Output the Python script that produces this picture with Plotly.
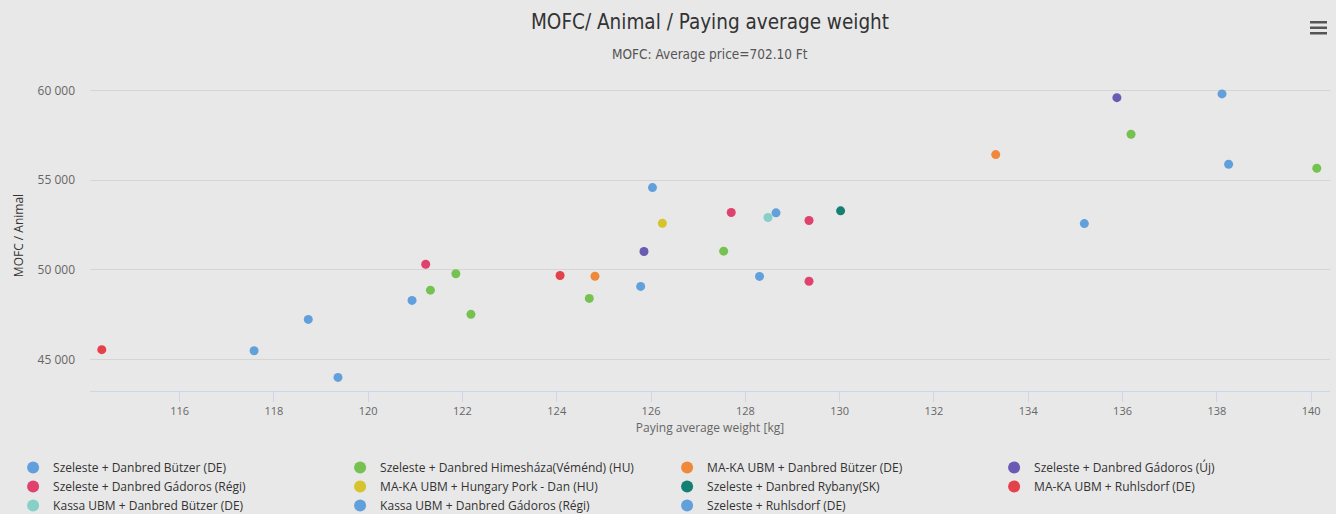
import plotly.graph_objects as go

# ---- data ----
series_names = [
    "Szeleste + Danbred Bützer (DE)",
    "Szeleste + Danbred Himesháza(Véménd) (HU)",
    "MA-KA UBM + Danbred Bützer (DE)",
    "Szeleste + Danbred Gádoros (Új)",
    "Szeleste + Danbred Gádoros (Régi)",
    "MA-KA UBM + Hungary Pork - Dan (HU)",
    "Szeleste + Danbred Rybany(SK)",
    "MA-KA UBM + Ruhlsdorf (DE)",
    "Kassa UBM + Danbred Bützer (DE)",
    "Kassa UBM + Danbred Gádoros (Régi)",
    "Szeleste + Ruhlsdorf (DE)",
]
series_colors = [
    "#62a0dc", "#76c251", "#f0883c", "#6a5ab3", "#e0416d", "#d6c42c",
    "#147f72", "#e5414a", "#86d0c7", "#62a0dc", "#62a0dc",
]

x_szeleste_butzer = [117.58, 118.73, 120.93, 126.03, 128.65]
y_szeleste_butzer = [45480, 47230, 48290, 54590, 53180]

x_himeshaza = [121.32, 121.86, 122.18, 124.69, 127.54, 136.18, 140.12]
y_himeshaza = [48860, 49780, 47510, 48400, 51040, 57570, 55670]

x_maka_butzer = [124.81, 133.31]
y_maka_butzer = [49640, 56430]

x_gadoros_uj = [125.85, 135.88]
y_gadoros_uj = [51020, 59610]

x_gadoros_regi = [121.22, 127.70, 129.35, 129.35]
y_gadoros_regi = [50310, 53200, 52750, 49360]

x_hungary_pork = [126.24]
y_hungary_pork = [52600]

x_rybany = [130.02]
y_rybany = [53290]

x_maka_ruhlsdorf = [114.35, 124.07]
y_maka_ruhlsdorf = [45540, 49680]

x_kassa_butzer = [128.48]
y_kassa_butzer = [52920]

x_kassa_gadoros = [119.36, 125.78, 128.30]
y_kassa_gadoros = [43990, 49070, 49630]

x_szeleste_ruhlsdorf = [138.11, 138.25, 135.19]
y_szeleste_ruhlsdorf = [59820, 55890, 52580]

series_x = [x_szeleste_butzer, x_himeshaza, x_maka_butzer, x_gadoros_uj, x_gadoros_regi,
            x_hungary_pork, x_rybany, x_maka_ruhlsdorf, x_kassa_butzer, x_kassa_gadoros,
            x_szeleste_ruhlsdorf]
series_y = [y_szeleste_butzer, y_himeshaza, y_maka_butzer, y_gadoros_uj, y_gadoros_regi,
            y_hungary_pork, y_rybany, y_maka_ruhlsdorf, y_kassa_butzer, y_kassa_gadoros,
            y_szeleste_ruhlsdorf]

title_text = "MOFC/ Animal / Paying average weight"
subtitle_text = "MOFC: Average price=702.10 Ft"
x_title = "Paying average weight [kg]"
y_title = "MOFC / Animal"

BG = "#e8e8e8"
fig = go.Figure()
for name, color, xs, ys in zip(series_names, series_colors, series_x, series_y):
    fig.add_trace(go.Scatter(
        x=xs, y=ys, mode="markers", name=name,
        marker=dict(size=9, color=color, line=dict(width=0)),
    ))

fig.update_layout(
    width=1336, height=514,
    paper_bgcolor=BG, plot_bgcolor=BG,
    margin=dict(l=90, r=6, t=80, b=123, autoexpand=False),
    separators=". ",
    font=dict(family="Open Sans, DejaVu Sans", color="#333333", size=12),
    title=dict(
        text=title_text, x=0.5, xref="paper", xanchor="center",
        y=1 - 22 / 514, yref="container", yanchor="middle",
        font=dict(family="DejaVu Sans Condensed, Liberation Sans Narrow, sans-serif", size=20.5, color="#333333"),
    ),
    xaxis=dict(
        range=[114.1, 140.4], dtick=2, tick0=0,
        showgrid=False, zeroline=False,
        showline=True, linecolor="#ccd6eb", linewidth=1,
        ticks="outside", ticklen=10, tickcolor="#ccd6eb", tickwidth=1,
        tickfont=dict(size=11, color="#666666"),
        title=dict(text=x_title, font=dict(size=12, color="#666666"), standoff=6),
    ),
    yaxis=dict(
        range=[43231, 60597], dtick=5000, tick0=0, tickformat=",d",
        showgrid=True, gridcolor="#d5d5d5", gridwidth=1, zeroline=False,
        showline=False, ticks="", ticklabelstandoff=14,
        tickfont=dict(size=12, color="#666666"),
        title=dict(text=y_title, font=dict(size=12, color="#333333"), standoff=11),
    ),
    legend=dict(
        orientation="h", x=-0.062, xanchor="left",
        y=-(453 - 391) / 311, yanchor="top",
        entrywidth=282, entrywidthmode="pixels",
        font=dict(size=12, color="#333333"),
        bgcolor="rgba(0,0,0,0)", tracegroupgap=0, itemsizing="constant",
    ),
    showlegend=True,
)

fig.add_annotation(
    text=subtitle_text, xref="paper", yref="paper", x=0.5, y=(391 - 54) / 311,
    xanchor="center", yanchor="middle", showarrow=False,
    font=dict(family="DejaVu Sans Condensed, Liberation Sans Narrow, sans-serif", size=13.5, color="#555555"),
)
# export-menu icon
for i in range(3):
    fig.add_shape(type="rect", xref="paper", yref="paper",
                  x0=(1310 - 90) / 1240, x1=(1327 - 90) / 1240,
                  y0=(391 - (21 + 5.5 * i)) / 311, y1=(391 - (23.5 + 5.5 * i)) / 311,
                  fillcolor="#555555", line=dict(width=0))

fig.write_html("out.html", config={"displayModeBar": False},
               post_script="document.body.style.margin='0';document.body.style.overflow='hidden';")
